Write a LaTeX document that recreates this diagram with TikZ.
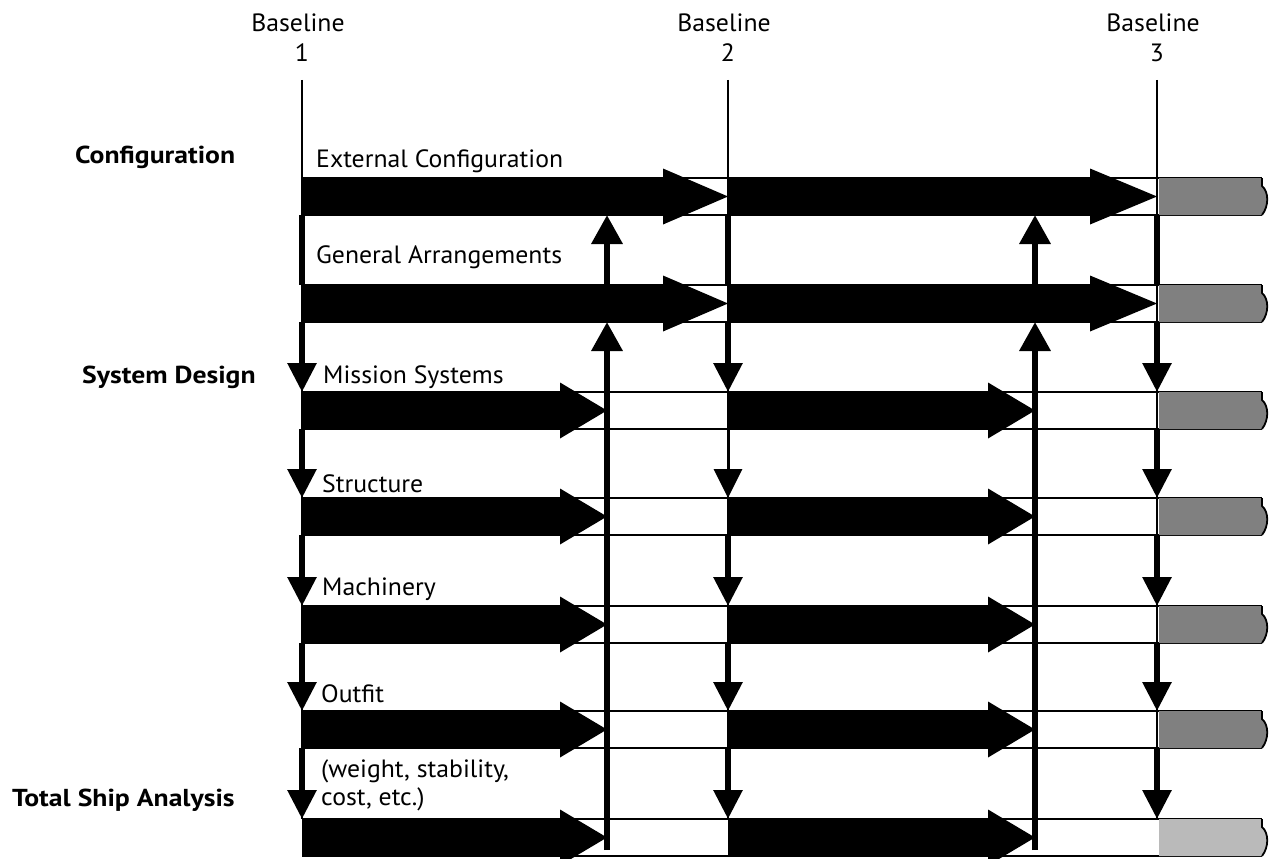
\documentclass[tikz,border=0pt]{standalone}
\usepackage{fontspec}
\setmainfont{PT Sans}[FakeStretch=1.03]
\newfontfamily\hdrfont{PT Sans}[FakeStretch=1.13]
\usetikzlibrary{arrows.meta,calc}
\begin{document}
\begin{tikzpicture}[x=1pt,y=-1pt,
  lab/.style={font=\fontsize{25}{28.5}\selectfont, inner sep=0pt, anchor=base west},
  hdr/.style={font=\hdrfont\bfseries\fontsize{24.5}{28}\selectfont, inner sep=0pt, anchor=base west},
  toplab/.style={font=\fontsize{25}{28}\selectfont, inner sep=0pt, anchor=base},
  lane/.style={line width=1.8pt},
  guide/.style={line width=2.4pt},
  flowplain/.style={line width=6pt},
  flow/.style={line width=6pt, -{Triangle[width=28pt,length=29pt]}},
  thinflow/.style={line width=3pt, -{Triangle[width=28pt,length=29pt]}},
  upflow/.style={line width=6.5pt, -{Triangle[width=30pt,length=29pt]}},
  tornedge/.style={line width=1.8pt},
]
\useasboundingbox (0,0) rectangle (1269,859);

% named grid points
\foreach \i/\t in {1/178,2/285,3/392,4/498,5/606,6/711,7/819} {
  \foreach \x/\n in {302/a,728/b,1157/c,607/u,1035/v} {
    \coordinate (p\n-\i-t) at (\x,\t);
    \coordinate (p\n-\i-b) at (\x,\t+37);
  }
  \coordinate (e-\i-t) at (1262,\t);
  \coordinate (e-\i-b) at (1262,\t+37);
}

% lane lines
\foreach \i in {1,...,7} {
  \draw[lane] (pa-\i-t) -- (e-\i-t);
  \draw[lane] (pa-\i-b) -- (e-\i-b);
}

% black bars, rows 1-2 (long heads)
\foreach \t in {178,285} {
  \fill (302,\t) -- (663,\t) -- (663,\t-9.5) -- (728,\t+18.5) -- (663,\t+46.5) -- (663,\t+37) -- (302,\t+37) -- cycle;
  \fill (728,\t) -- (1090,\t) -- (1090,\t-9.5) -- (1157,\t+18.5) -- (1090,\t+46.5) -- (1090,\t+37) -- (728,\t+37) -- cycle;
}
% black bars, rows 3-7
\foreach \t in {392,498,606,711,819} {
  \fill (302,\t) -- (560,\t) -- (560,\t-9.5) -- (607,\t+18.5) -- (560,\t+46.5) -- (560,\t+37) -- (302,\t+37) -- cycle;
  \fill (728,\t) -- (988,\t) -- (988,\t-9.5) -- (1035,\t+18.5) -- (988,\t+46.5) -- (988,\t+37) -- (728,\t+37) -- cycle;
}

% grey torn ends
\foreach \i/\t/\g in {1/178/50,2/285/50,3/392/50,4/498/50,5/606/50,6/711/50,7/819/27} {
  \fill[black!\g] (1159,\t) -- (1262,\t) -- (1262,\t+8) .. controls (1269,\t+14) and (1269,\t+28) .. (1262,\t+37) -- (1159,\t+37) -- cycle;
  \draw[tornedge] (e-\i-t) -- (1262,\t+8) .. controls (1269,\t+14) and (1269,\t+28) .. (e-\i-b);
}

% baseline guide lines
\foreach \n/\x/\k in {a/302/1,b/728/2,c/1157/3} {
  \node[toplab] (bt\k) at (\x-4,32) {Baseline};
  \node[toplab] (bn\k) at (\x,62) {\k};
  \coordinate (g\k) at (\x,80);
  \draw[guide] (g\k) -- (p\n-7-t);
}

% down flows at baselines
\foreach \n in {a,b,c} {
  \draw[flowplain] (p\n-1-b) -- (p\n-2-t);
}
\foreach \i/\j in {2/3,3/4,4/5,5/6,6/7} {
  \draw[flow] (pa-\i-b) -- (pa-\j-t);
  \draw[flow] (pc-\i-b) -- (pc-\j-t);
}
\foreach \i/\j in {2/3,4/5,5/6,6/7} {
  \draw[flow] (pb-\i-b) -- (pb-\j-t);
}
\draw[thinflow] (pb-3-b) -- (pb-4-t);

% upward feedback arrows
\coordinate (ubot) at (607,850);
\coordinate (vbot) at (1035,850);
\draw[upflow] (ubot) -- (pu-2-b);
\draw[upflow] (pu-2-b) -- (pu-1-b);
\draw[upflow] (vbot) -- (pv-2-b);
\draw[upflow] (pv-2-b) -- (pv-1-b);

% group headings
\node[hdr] (h1) at (75,163) {Configuration};
\node[hdr] (h2) at (82,383) {System Design};
\node[hdr] (h3) at (12,806) {Total Ship Analysis};

% row labels
\node[lab] (l1) at (316,167) {External Configuration};
\node[lab] (l2) at (316,263) {General Arrangements};
\node[lab] (l3) at (323,383) {Mission Systems};
\node[lab] (l4) at (322,492) {Structure};
\node[lab] (l5) at (322,595) {Machinery};
\node[lab] (l6) at (321,702) {Outfit};
\node[lab, align=left, anchor=north west] (l7) at (321,759) {(weight, stability,\\cost, etc.)};
\end{tikzpicture}
\end{document}
